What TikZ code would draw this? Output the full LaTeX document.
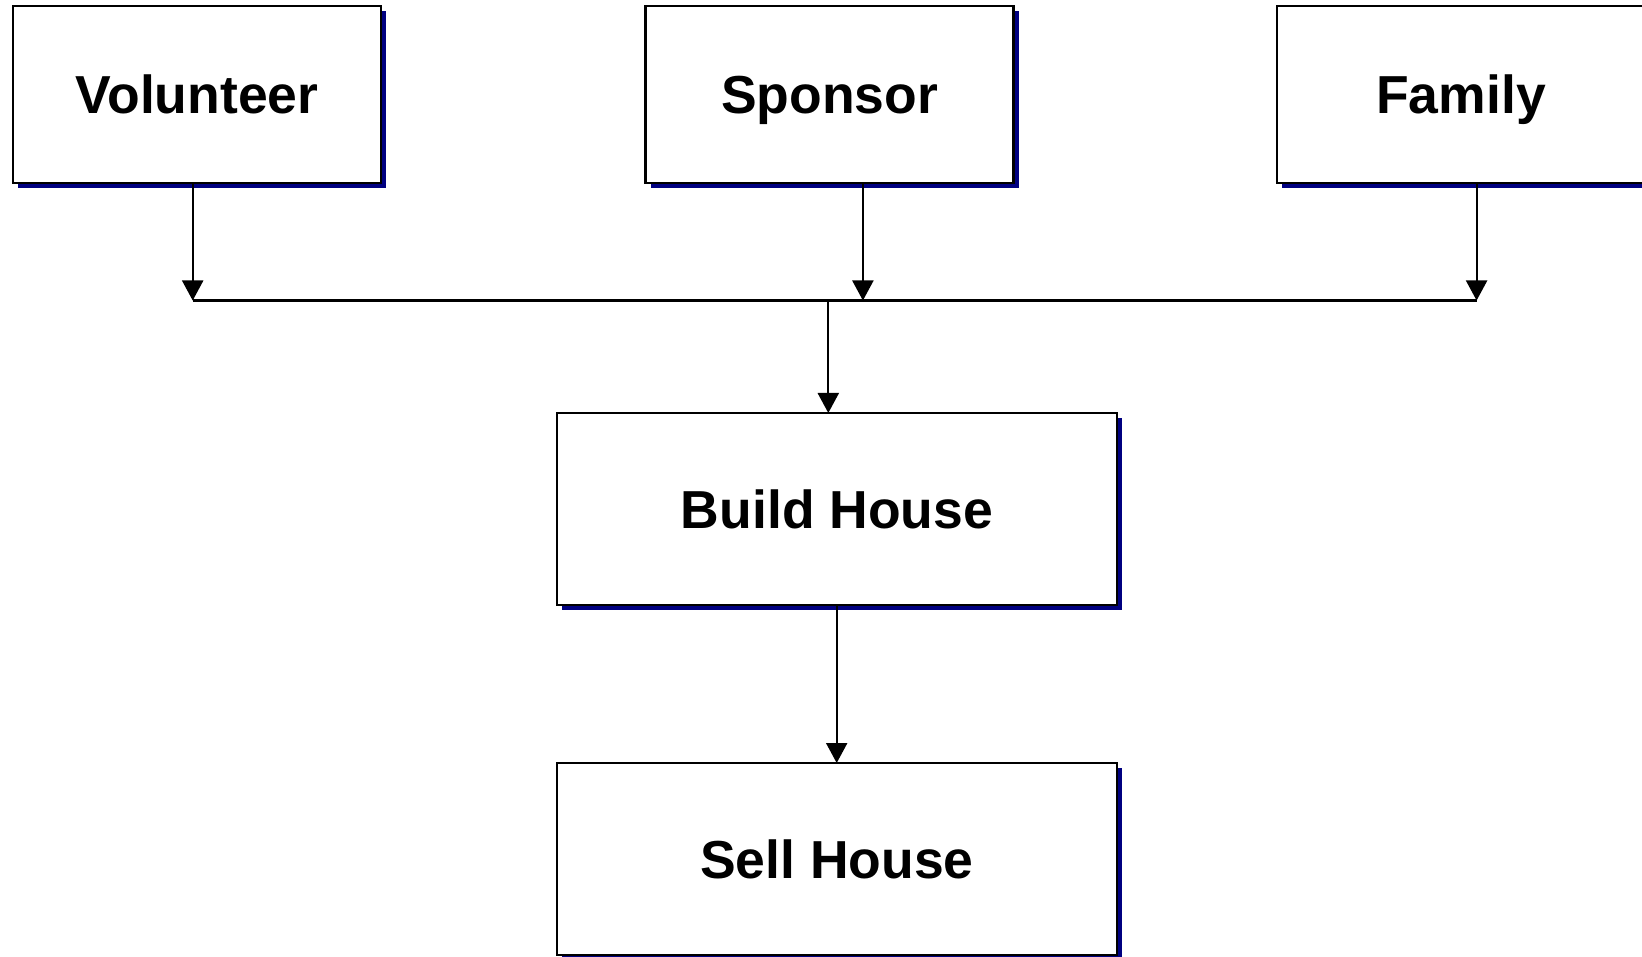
\documentclass[tikz,border=0pt]{standalone}
\usepackage{fontspec}
\setmainfont{Liberation Sans}
\usetikzlibrary{shadows,arrows.meta}
\definecolor{shadowblue}{RGB}{0,0,128}

\begin{document}
\begin{tikzpicture}[x=1pt,y=-1pt]

\def\topy{94.5}
\def\bary{300.5}

\tikzstyle{box}=[rectangle,draw,fill=white,line width=2.1pt,inner sep=0pt,outer sep=0pt,
  font=\fontsize{53.5}{60}\selectfont\bfseries,text height=38.5pt,text depth=0pt,
  drop shadow={shadow xshift=5pt,shadow yshift=-5pt,fill=shadowblue,opacity=1}]
\tikzstyle{party}=[box,minimum width=368pt,minimum height=177pt]
\tikzstyle{stage}=[box,minimum width=560pt,minimum height=192pt]
\tikzstyle{conn}=[line width=2.1pt]
\tikzstyle{arr}=[conn,-{Triangle[length=20pt,width=21pt]}]

\clip (0,0) rectangle (1642,957);
\useasboundingbox (0,0) rectangle (1642,957);

%parties
\node[party] (vol) at (197,\topy) {Volunteer};
\node[party] (spon) at (829.5,\topy) {Sponsor};
\node[party] (fam) at (1461,\topy) {Family};

%stages
\node[stage] (build) at (837,509) {Build House};
\node[stage] (sell) at (837,859) {Sell House};

%joins on the bar
\coordinate (jv) at (192.7,\bary);
\coordinate (js) at (862.9,\bary);
\coordinate (jf) at (1476.6,\bary);
\coordinate (jb) at (828.3,\bary);
\coordinate (jsell) at (836.7,\bary);

\draw[arr] (vol.south -| jv) -- (jv);
\draw[arr] (spon.south -| js) -- (js);
\draw[arr] (fam.south -| jf) -- (jf);
\draw[conn] (jv) -- (jf);

\draw[arr] (jb) -- (build.north -| jb);
\draw[arr] (build.south -| jsell) -- (sell.north -| jsell);

\end{tikzpicture}
\end{document}
